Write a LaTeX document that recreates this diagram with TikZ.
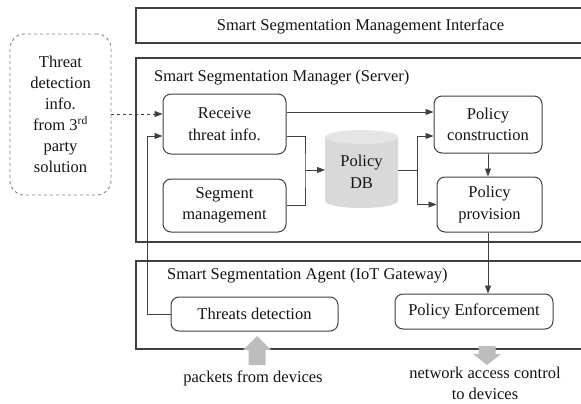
\documentclass[tikz,border=0pt]{standalone}
\usepackage{fontspec}
\setmainfont{Liberation Serif}
\usetikzlibrary{arrows.meta,calc}
\definecolor{ln}{HTML}{404040}
\definecolor{tx}{HTML}{141414}
\definecolor{blk}{HTML}{BDBDBD}
\tikzset{
  base/.style={font=\fontsize{16.5}{21.5}\selectfont, text=tx},
  rbox/.style={base, draw=ln, line width=1pt, rounded corners=8pt, align=center, inner sep=0pt},
  frame/.style={draw=ln, line width=1.1pt},
  conn/.style={draw=ln, line width=0.9pt},
  arr/.style={conn, -{Triangle[length=8pt,width=6pt]}},
  lbl/.style={base, anchor=west, inner sep=0pt},
}
\begin{document}
\begin{tikzpicture}[x=1pt,y=-1pt]
\useasboundingbox (0,0) rectangle (581,404);
% frames open to the right
\draw[frame] (590,8) -- (136,8) -- (136,43) -- (590,43);
\draw[frame] (590,58) -- (136,58) -- (136,242) -- (590,242);
\draw[frame] (590,261) -- (136,261) -- (136,349) -- (590,349);
\node[base, inner sep=0pt] (title) at (360.5,26) {Smart Segmentation Management Interface};
\node[lbl] (mgr) at (154,78) {Smart Segmentation Manager (Server)};
\node[lbl] (agt) at (167,276) {Smart Segmentation Agent (IoT Gateway)};
% external box
\node[rbox, draw=gray, dashed, line width=0.9pt, rounded corners=14pt, minimum width=101pt, minimum height=161pt, font=\fontsize{16.5}{21}\selectfont] (ext) at (60.5,114.5)
  {Threat\\detection\\info.\\from 3\textsuperscript{rd}\\party\\solution};
% boxes
\node[rbox, minimum width=123pt, minimum height=60pt] (recv) at (224.5,124) {Receive\\threat info.};
\node[rbox, minimum width=123pt, minimum height=53pt] (seg) at (224.5,205.5) {Segment\\management};
\node[rbox, minimum width=108pt, minimum height=57pt] (constr) at (488,124.5) {Policy\\construction};
\node[rbox, minimum width=105pt, minimum height=55pt] (prov) at (489.5,204.5) {Policy\\provision};
\node[rbox, minimum width=167pt, minimum height=34pt] (thr) at (254.5,314) {Threats detection};
\node[rbox, minimum width=158pt, minimum height=35pt] (enf) at (474,311.5) {Policy Enforcement};
% database cylinder
\fill[gray!30] (325,137) -- (325,201) arc[start angle=180, end angle=360, x radius=36.5, y radius=-7] -- (398,137) -- cycle;
\fill[gray!20] (361.5,137) ellipse[x radius=36.5, y radius=7];
\node[base, align=center, minimum width=73pt, minimum height=78pt, inner sep=0pt] (db) at (361.5,172) {Policy\\DB};
% coordinates
\coordinate (j1) at (305,170);
\coordinate (j2) at (417,170);
% connectors
\draw[arr, dashed, draw=ln] (ext.east |- 0,114) -- (recv.west |- 0,114);
\draw[arr] (thr.west) -- ++(-23,0) |- ([yshift=-12pt]recv.west);
\draw[arr] ([yshift=12pt]recv.east) -- (constr.west |- 0,112);
\draw[conn] ([yshift=-12pt]recv.east) -| (j1) |- (seg.east);
\draw[arr] (j1) -- (325,170);
\draw[conn] (398,170) -- (j2);
\draw[arr] (j2) |- (constr.west |- 0,136);
\draw[arr] (j2) |- (prov.west);
\draw[arr] (constr.south) -- (prov.north -| constr.south);
\draw[arr] (prov.south -| constr.south) -- (enf.north -| constr.south);
% block arrows
\fill[blk] (248.5,365) -- (248.5,350) -- (243,350) -- (257,336) -- (271,350) -- (265.5,350) -- (265.5,365) -- cycle;
\fill[blk] (478.5,346) -- (478.5,354) -- (473,354) -- (487,365) -- (501,354) -- (495.5,354) -- (495.5,346) -- cycle;
\node[base, inner sep=0pt] (pk) at (253,378) {packets from devices};
\node[base, inner sep=0pt, align=center, font=\fontsize{16.5}{21}\selectfont] (nac) at (485,383.5) {network access control\\to devices};
\end{tikzpicture}
\end{document}
